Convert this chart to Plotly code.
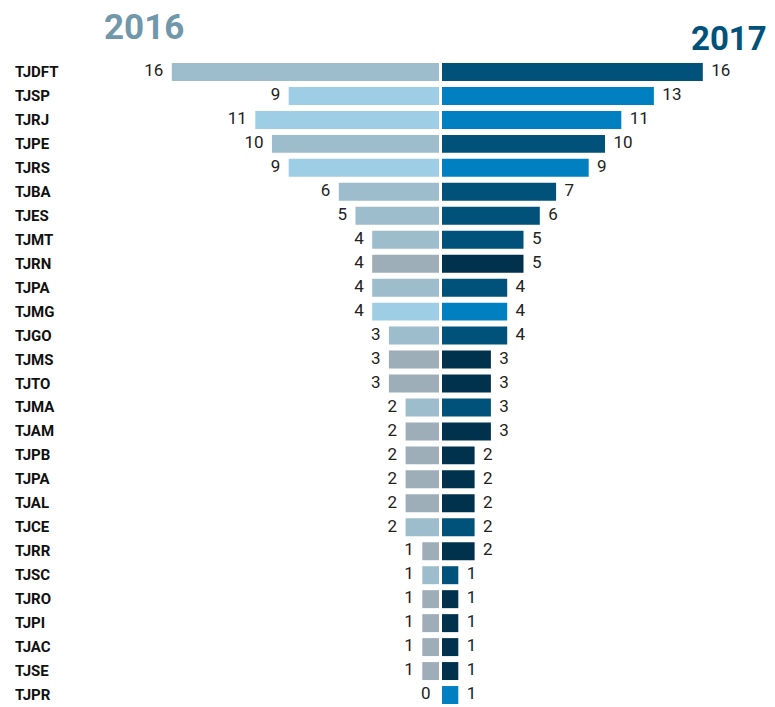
'''
    Butterfly bar chart comparing 2016 and 2017 counts per court.
'''
import plotly.graph_objects as go
from plotly.subplots import make_subplots

courts = ['TJDFT', 'TJSP', 'TJRJ', 'TJPE', 'TJRS', 'TJBA', 'TJES', 'TJMT', 'TJRN',
          'TJPA', 'TJMG', 'TJGO', 'TJMS', 'TJTO', 'TJMA', 'TJAM', 'TJPB', 'TJPA',
          'TJAL', 'TJCE', 'TJRR', 'TJSC', 'TJRO', 'TJPI', 'TJAC', 'TJSE', 'TJPR']
values_2016 = [16, 9, 11, 10, 9, 6, 5, 4, 4, 4, 4, 3, 3, 3, 2, 2, 2, 2, 2, 2, 1, 1, 1, 1, 1, 1, 0]
values_2017 = [16, 13, 11, 10, 9, 7, 6, 5, 5, 4, 4, 4, 3, 3, 3, 3, 2, 2, 2, 2, 2, 1, 1, 1, 1, 1, 1]
# colour group of each row: 'a' steel, 'b' bright, 'c' dark
groups = ['a', 'b', 'b', 'a', 'b', 'a', 'a', 'a', 'c', 'a', 'b', 'a', 'c', 'c', 'a',
          'c', 'c', 'c', 'c', 'a', 'c', 'a', 'c', 'c', 'c', 'c', 'b']

LEFT_COLORS = {'a': '#9dbccc', 'b': '#9ecde6', 'c': '#9eaeb8'}
RIGHT_COLORS = {'a': '#00527a', 'b': '#0080c0', 'c': '#00324d'}
FONT = 'Roboto, sans-serif'
# page body has an 8px margin, so the figure is 8px smaller than the window
W, H = 767, 699
TOP = 52
PLOT_H = H - TOP
CENTER_L, CENTER_R = 431, 434
LEFT_START = 70
NBSP = '\u00a0'

rows = list(range(len(courts)))

fig = make_subplots(rows=1, cols=2, shared_yaxes=True, horizontal_spacing=0)

bar_style = dict(orientation='h', marker_line_width=0, hoverinfo='skip', showlegend=False)
label_font = dict(size=17, color='#222222', family=FONT)

#bars
fig.add_trace(go.Bar(x=values_2016, y=rows,
                     marker_color=[LEFT_COLORS[g] for g in groups], **bar_style),
              row=1, col=1)
fig.add_trace(go.Bar(x=values_2017, y=rows,
                     marker_color=[RIGHT_COLORS[g] for g in groups], **bar_style),
              row=1, col=2)

#value labels at bar ends
fig.add_trace(go.Scatter(x=values_2016, y=rows, mode='text',
                         text=[f'{v}{NBSP * 2}' for v in values_2016],
                         textposition='middle left', textfont=label_font,
                         cliponaxis=False, hoverinfo='skip', showlegend=False),
              row=1, col=1)
fig.add_trace(go.Scatter(x=values_2017, y=rows, mode='text',
                         text=[f'{NBSP * 2}{v}' for v in values_2017],
                         textposition='middle right', textfont=label_font,
                         cliponaxis=False, hoverinfo='skip', showlegend=False),
              row=1, col=2)

#axes: left one reversed, small white gap in the middle
fig.update_layout(
    xaxis=dict(domain=[LEFT_START / W, CENTER_L / W],
               range=[(CENTER_L - LEFT_START) / 16.7, 0],
               visible=False, fixedrange=True),
    xaxis2=dict(domain=[CENTER_R / W, 1], range=[0, (W - CENTER_R) / 16.3],
                visible=False, fixedrange=True),
    yaxis=dict(range=[len(courts) - 0.5, -0.5], visible=False, fixedrange=True),
    yaxis2=dict(range=[len(courts) - 0.5, -0.5], visible=False, fixedrange=True),
    bargap=0.25,
    width=W, height=H,
    margin=dict(l=0, r=0, t=TOP, b=0, pad=0),
    plot_bgcolor='white', paper_bgcolor='white',
    font=dict(family=FONT),
)

#court names at the far left
for i, name in zip(rows, courts):
    fig.add_annotation(x=5 / W, xref='paper', xanchor='left', y=i, yref='y',
                       yanchor='middle', text=f'<b>{name}</b>', showarrow=False,
                       font=dict(size=15, color='#111111', family=FONT))

#year titles
fig.add_annotation(x=136 / W, xanchor='center', y=1 + (TOP - 19) / PLOT_H,
                   yanchor='middle', xref='paper', yref='paper',
                   text='<b>2016</b>', showarrow=False,
                   font=dict(size=35, color='#7097aa', family=FONT))
fig.add_annotation(x=(W - 6) / W, xanchor='right', y=1 + (TOP - 30) / PLOT_H,
                   yanchor='middle', xref='paper', yref='paper',
                   text='<b>2017</b>', showarrow=False,
                   font=dict(size=33, color='#00527a', family=FONT))

fig.write_html('out.html')
